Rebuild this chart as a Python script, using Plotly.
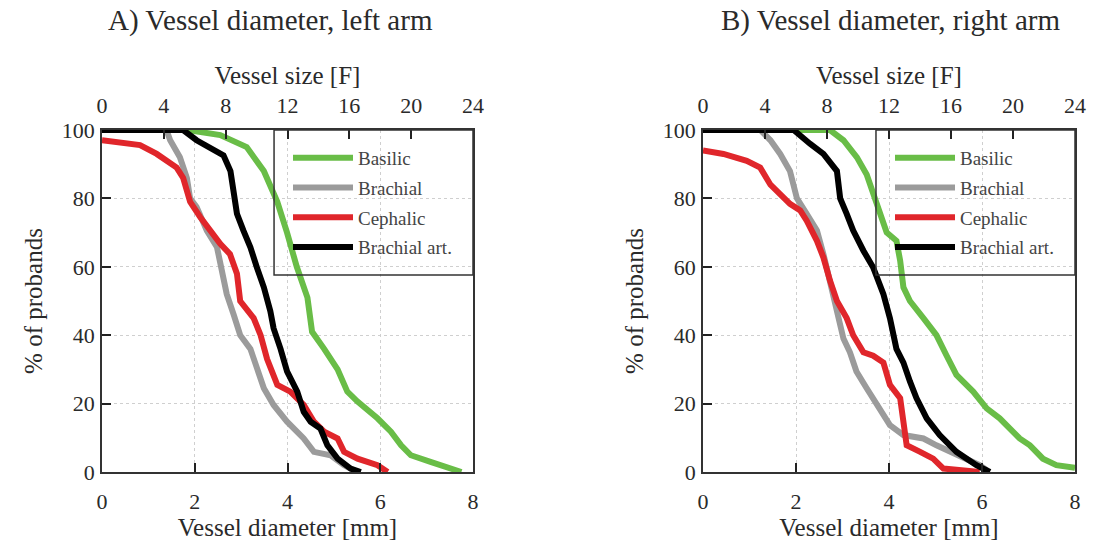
import plotly.graph_objects as go

# ---------------- data (diameter in mm, % of probands) ----------------
series_names = ["Basilic", "Brachial", "Cephalic", "Brachial art."]
series_colors = ["#69bd47", "#9b9b9b", "#e0262b", "#000000"]

# A) left arm
left_basilic_x = [0.0, 1.85, 2.55, 3.12, 3.49, 3.78, 3.99, 4.2, 4.43, 4.53, 4.79, 5.08, 5.29, 5.51, 5.94, 6.23, 6.45, 6.66, 7.1, 7.75]
left_basilic_y = [100, 100, 98.5, 95, 88, 79, 70, 60, 51, 41, 36, 30, 23.5, 20.6, 15.7, 11.8, 7.8, 4.9, 2.9, 0]
left_brachial_x = [0.0, 1.39, 1.47, 1.68, 1.83, 1.9, 2.04, 2.26, 2.48, 2.58, 2.69, 2.84, 2.98, 3.2, 3.34, 3.49, 3.7, 3.99, 4.35, 4.57, 4.93, 5.22, 5.5]
left_brachial_y = [100, 100, 97, 92, 86, 80, 77.5, 70.6, 65.7, 59, 52, 46, 40, 36, 30, 24.5, 19.6, 14.7, 9.8, 5.9, 4.9, 2, 0]
left_cephalic_x = [0.0, 0.82, 1.18, 1.61, 1.75, 1.9, 2.12, 2.33, 2.55, 2.76, 2.91, 2.98, 3.27, 3.42, 3.56, 3.78, 4.06, 4.35, 4.57, 4.79, 5.08, 5.22, 5.51, 5.94, 6.16]
left_cephalic_y = [97, 95.6, 93, 89, 86, 79, 74.5, 70.6, 66.7, 63.7, 58, 50, 45, 40, 33, 25.5, 23.5, 19.6, 14.7, 11.8, 9.8, 5.9, 3.9, 2, 0]
left_art_x = [0.0, 1.75, 2.04, 2.33, 2.62, 2.77, 2.84, 2.91, 3.05, 3.2, 3.34, 3.49, 3.63, 3.7, 3.85, 3.99, 4.21, 4.35, 4.5, 4.71, 4.86, 5.08, 5.36, 5.58]
left_art_y = [100, 100, 97, 94.6, 92.6, 88, 80, 75.5, 70.6, 65.7, 59.8, 54, 47, 42, 36, 29.4, 23.5, 17.6, 14.7, 12.7, 7.8, 3.9, 1, 0]

# B) right arm
right_basilic_x = [0.0, 2.09, 2.73, 3.02, 3.31, 3.52, 3.66, 3.8, 3.95, 4.16, 4.24, 4.31, 4.45, 4.74, 5.02, 5.24, 5.45, 5.81, 6.1, 6.38, 6.6, 6.81, 7.03, 7.31, 7.6, 8.0]
right_basilic_y = [100, 100, 100, 97, 92, 87, 81, 75.5, 70, 67.6, 61.8, 54, 50, 45, 40, 34, 28.4, 23.5, 18.6, 15.7, 12.7, 9.8, 7.8, 3.9, 2, 1.2]
right_brachial_x = [0.0, 1.23, 1.45, 1.66, 1.87, 2.02, 2.23, 2.45, 2.59, 2.73, 2.88, 3.02, 3.16, 3.3, 3.52, 3.74, 4.02, 4.31, 4.74, 5.02, 5.31, 5.67, 5.95, 6.1]
right_brachial_y = [100, 100, 97, 93, 88, 80, 75.5, 70.6, 63.7, 56, 47, 39, 35, 29.4, 24.5, 19.6, 13.7, 10.8, 9.8, 7.8, 5.9, 3.9, 2, 0.5]
right_cephalic_x = [0.0, 0.44, 0.94, 1.23, 1.45, 1.73, 1.87, 2.09, 2.23, 2.45, 2.59, 2.73, 2.88, 3.09, 3.23, 3.45, 3.66, 3.88, 4.02, 4.24, 4.31, 4.38, 4.67, 4.95, 5.17, 5.45, 5.95]
right_cephalic_y = [94, 93, 91, 89, 84, 80, 78.4, 76.5, 73.5, 67.6, 62.7, 56, 50, 45, 40, 35, 34, 32, 25.5, 21.6, 14.7, 7.8, 5.9, 3.9, 1, 0.5, 0]
right_art_x = [0.0, 1.95, 2.3, 2.59, 2.88, 2.95, 3.09, 3.23, 3.45, 3.66, 3.88, 4.02, 4.16, 4.31, 4.45, 4.59, 4.81, 5.09, 5.45, 5.88, 6.17]
right_art_y = [100, 100, 96, 93, 88, 80, 75.5, 70.6, 64.7, 59.8, 52, 45, 36, 32, 26.5, 21.6, 15.7, 10.8, 5.9, 2, 0]

panel_titles = ["A) Vessel diameter, left arm", "B) Vessel diameter, right arm"]
mm_ticks = [0, 2, 4, 6, 8]
f_ticks = [0, 4, 8, 12, 16, 20, 24]
pct_ticks = [0, 20, 40, 60, 80, 100]

left_data = [(left_basilic_x, left_basilic_y), (left_brachial_x, left_brachial_y),
             (left_cephalic_x, left_cephalic_y), (left_art_x, left_art_y)]
right_data = [(right_basilic_x, right_basilic_y), (right_brachial_x, right_brachial_y),
              (right_cephalic_x, right_cephalic_y), (right_art_x, right_art_y)]

FONT = "Liberation Serif"
TXT = "#2a2a2a"
W, H = 1112, 545

fig = go.Figure()

for panel, (data, xa, ya, leg) in enumerate([(left_data, "x", "y", "legend"),
                                             (right_data, "x3", "y2", "legend2")]):
    for i, (xs, ys) in enumerate(data):
        fig.add_trace(go.Scatter(
            x=xs, y=ys, mode="lines", name=series_names[i],
            line=dict(color=series_colors[i], width=6),
            xaxis=xa, yaxis=ya, legend=leg,
            legendgroup=f"p{panel}g{i}",
        ))

# empty helper traces so the top (French size) axes get drawn
for xa, ya in [("x2", "y"), ("x4", "y2")]:
    fig.add_trace(go.Scatter(x=[None], y=[None], mode="lines", xaxis=xa, yaxis=ya,
                             showlegend=False, hoverinfo="skip"))

# panel geometry in paper fractions
dom_left = [102 / W, 473 / W]
dom_right = [703 / W, 1075 / W]
dom_y = [1 - 472 / H, 1 - 130 / H]

axis_font = dict(family=FONT, size=22, color=TXT)
title_font = dict(family=FONT, size=25, color=TXT)
grid = dict(showgrid=True, gridcolor="#cfcfcf", griddash="dot", gridwidth=1.2)

def bottom_axis(domain, anchor):
    return dict(domain=domain, anchor=anchor, range=[0, 8], tickvals=mm_ticks,
                ticks="inside", ticklen=9, tickwidth=2, tickcolor="#222",
                showline=True, linecolor="#333", linewidth=1.5, mirror=True,
                tickfont=axis_font, ticklabelstandoff=9, automargin=False,
                title=dict(text="Vessel diameter [mm]", font=title_font, standoff=0),
                zeroline=False, **grid)

def top_axis(overlay, anchor):
    return dict(overlaying=overlay, anchor=anchor, side="top", range=[0, 24], tickvals=f_ticks,
                ticks="inside", ticklen=9, tickwidth=2, tickcolor="#222",
                showline=False, showgrid=False, zeroline=False, automargin=False,
                tickfont=axis_font, ticklabelstandoff=12,
                title=dict(text="Vessel size [F]", font=title_font, standoff=0))

def y_axis(anchor):
    return dict(domain=dom_y, anchor=anchor, range=[0, 100], tickvals=pct_ticks,
                ticks="inside", ticklen=9, tickwidth=2, tickcolor="#222",
                showline=True, linecolor="#333", linewidth=1.5, mirror=True,
                tickfont=axis_font, ticklabelstandoff=1, automargin=False,
                title=dict(text="% of probands", font=title_font, standoff=12),
                zeroline=False, **grid)

legend_common = dict(
    bgcolor="rgba(255,255,255,0)", borderwidth=0,
    font=dict(family=FONT, size=19, color="#444"),
    tracegroupgap=2, itemwidth=60, xanchor="left", yanchor="top",
)

fig.update_layout(
    width=W, height=H,
    margin=dict(l=0, r=0, t=0, b=0, autoexpand=False),
    paper_bgcolor="white", plot_bgcolor="white",
    xaxis=bottom_axis(dom_left, "y"),
    xaxis2=top_axis("x", "y"),
    xaxis3=bottom_axis(dom_right, "y2"),
    xaxis4=top_axis("x3", "y2"),
    yaxis=y_axis("x"),
    yaxis2=y_axis("x3"),
    legend=dict(x=288 / W, y=1 - 139 / H, **legend_common),
    legend2=dict(x=890 / W, y=1 - 139 / H, **legend_common),
    showlegend=True,
    annotations=[
        dict(text=panel_titles[0], x=270 / W, y=1 - 20 / H,
             xref="paper", yref="paper", showarrow=False, font=dict(family=FONT, size=29, color=TXT),
             xanchor="center", yanchor="middle"),
        dict(text=panel_titles[1], x=890 / W, y=1 - 20 / H,
             xref="paper", yref="paper", showarrow=False, font=dict(family=FONT, size=29, color=TXT),
             xanchor="center", yanchor="middle"),
    ],
    shapes=[
        dict(type="rect", xref="x", yref="y", x0=3.71, x1=8, y0=57.6, y1=100,
             line=dict(color="#333", width=1.5), layer="above"),
        dict(type="rect", xref="x3", yref="y2", x0=3.72, x1=8, y0=57.6, y1=100,
             line=dict(color="#333", width=1.5), layer="above"),
    ],
)

fig.write_html("out.html",
               config={"displayModeBar": False},
               post_script="document.body.style.margin='0';document.body.style.overflow='hidden';")
